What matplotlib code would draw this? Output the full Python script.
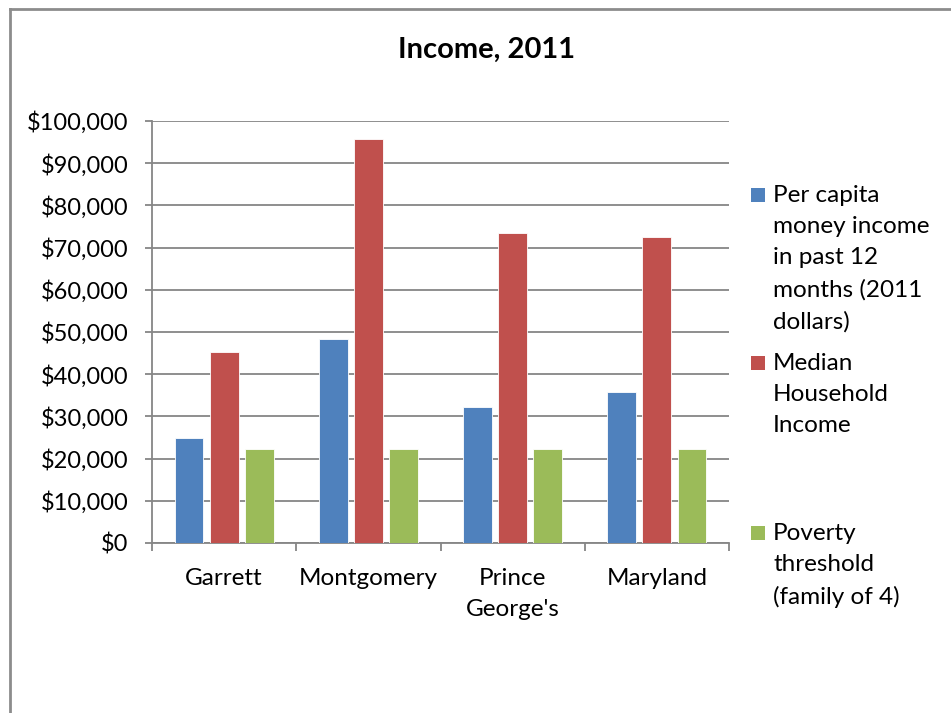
import matplotlib.pyplot as plt
import numpy as np
from matplotlib.lines import Line2D
from matplotlib.patches import Rectangle
from matplotlib.ticker import FuncFormatter, FixedLocator

plt.rcParams['font.family'] = ['Lato', 'DejaVu Sans']

TITLE = "Income, 2011"
CATEGORIES = ["Garrett", "Montgomery", "Prince\nGeorge's", "Maryland"]
SERIES_NAMES = [
    "Per capita\nmoney income\nin past 12\nmonths (2011\ndollars)",
    "Median\nHousehold\nIncome",
    "Poverty\nthreshold\n(family of 4)",
]
PER_CAPITA = [24800, 48400, 32200, 35800]
MEDIAN_HH = [45300, 95700, 73400, 72400]
POVERTY = [22300, 22300, 22300, 22300]
COLORS = ["#4F81BD", "#C0504D", "#9BBB59"]
GRID = "#868686"

W, H = 951, 713
fig = plt.figure(figsize=(W / 100, H / 100), dpi=100)
ax = fig.add_axes([152 / W, 1 - 543 / H, (729 - 152) / W, (543 - 121) / H])

x = np.arange(len(CATEGORIES))
offsets = [-0.243, 0.0, 0.243]
for vals, off, col in zip([PER_CAPITA, MEDIAN_HH, POVERTY], offsets, COLORS):
    ax.bar(x + off, vals, width=0.2, color=col, edgecolor="white", linewidth=0.6, zorder=3)

ax.set_xlim(-0.5, len(CATEGORIES) - 0.5)
ax.set_ylim(0, 100000)
ax.set_yticks(np.arange(0, 100001, 10000))
ax.yaxis.set_major_formatter(FuncFormatter(lambda v, p: f"${v:,.0f}"))
ax.grid(axis="y", color=GRID, linewidth=1.3, zorder=0)

ax.set_xticks(x)
ax.set_xticklabels(CATEGORIES, linespacing=1.6)
ax.xaxis.set_minor_locator(FixedLocator(np.arange(-0.5, len(CATEGORIES), 1.0)))
ax.tick_params(axis="x", which="major", length=0, pad=18, labelsize=17.5)
ax.tick_params(axis="x", which="minor", length=6, width=1.3, color=GRID)
ax.tick_params(axis="y", length=5, width=1.3, color=GRID, pad=12, labelsize=17)

for side in ["top", "right"]:
    ax.spines[side].set_visible(False)
for side in ["left", "bottom"]:
    ax.spines[side].set_color(GRID)
    ax.spines[side].set_linewidth(1.3)

fig.text(487 / W, 1 - 50 / H, TITLE, ha="center", va="center", fontsize=21, fontweight="bold")

# legend, laid out like the spreadsheet one
legend_y = [195, 363, 533]
for name, col, yp in zip(SERIES_NAMES, COLORS, legend_y):
    fig.patches.append(Rectangle((751 / W, 1 - (yp + 7) / H), 14 / W, 14 / H,
                                 transform=fig.transFigure, facecolor=col, edgecolor="none"))
    fig.text(773 / W, 1 - (yp - 10) / H, name, ha="left", va="top", fontsize=17.5, linespacing=1.6)

# chart frame (only top and left edges visible in the crop)
fig.lines.append(Line2D([10 / W, 10 / W], [0, 1 - 9 / H], transform=fig.transFigure, color="#8C8C8C", linewidth=2))
fig.lines.append(Line2D([10 / W, 1], [1 - 9 / H, 1 - 9 / H], transform=fig.transFigure, color="#8C8C8C", linewidth=2))

fig.savefig("out.png", dpi=100)
